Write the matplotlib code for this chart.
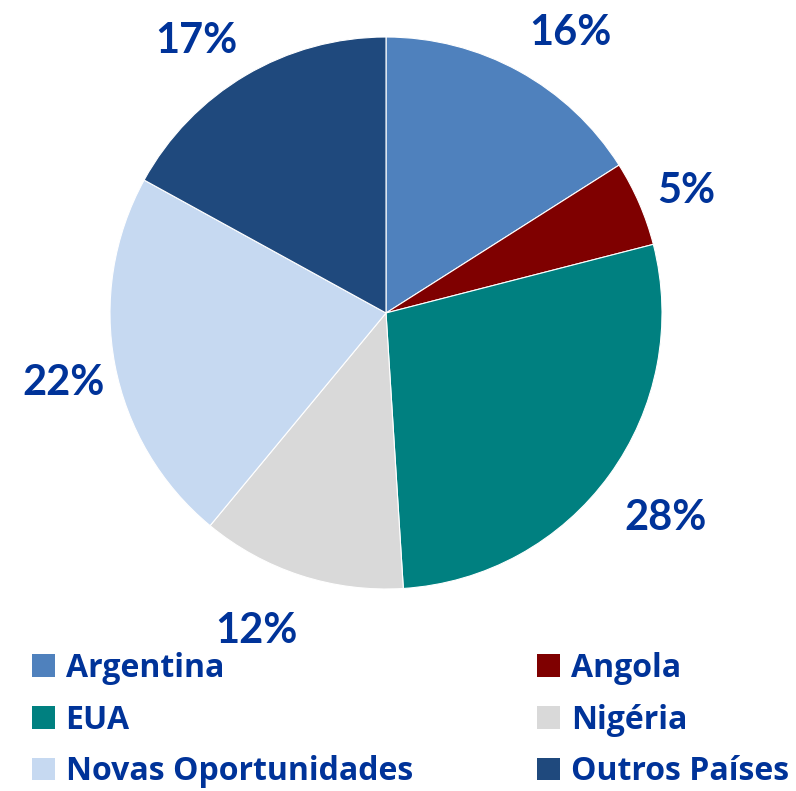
import matplotlib
matplotlib.use('Agg')
import matplotlib.pyplot as plt
from matplotlib.patches import Patch

# Share of each region (percent)
labels = ["Argentina", "Angola", "EUA", "Nigéria", "Novas Oportunidades", "Outros Países"]
values = [16, 5, 28, 12, 22, 17]
colors = ["#4F81BD", "#7F0000", "#008080", "#D9D9D9", "#C6D9F1", "#1F497D"]

# where each percentage label sits (in pie radii), like Excel's outside-end labels
label_xy = [(0.667, 1.025), (1.087, 0.453), (1.014, -0.732),
            (-0.471, -1.141), (-1.167, -0.243), (-0.688, 0.998)]

text_color = "#003399"
plt.rcParams['font.family'] = ['Lato', 'DejaVu Sans']

fig = plt.figure(figsize=(7.96, 7.91), dpi=100)
ax = fig.add_axes([110 / 796, 202 / 791, 552 / 796, 552 / 791])

wedges, texts, autotexts = ax.pie(
    values,
    colors=colors,
    startangle=90,
    counterclock=False,
    autopct="%d%%",
    wedgeprops=dict(edgecolor="white", linewidth=0.8),
    textprops=dict(color=text_color, fontsize=30, fontweight="bold"),
)
# cap height is ~30 px, so drop the baseline half of it below the centre
half_cap = 15 / 276
for t, (x, y) in zip(autotexts, label_xy):
    t.set_position((x, y - half_cap))
    t.set_verticalalignment("baseline")
    t.set_horizontalalignment("center")

ax.set_xlim(-1, 1)
ax.set_ylim(-1, 1)
ax.set_aspect("equal")

handles = [Patch(facecolor=c, edgecolor="none") for c in colors]
# order to fill rows: Argentina/Angola, EUA/Nigéria, Novas/Outros
order = [0, 2, 4, 1, 3, 5]
fig.legend(
    [handles[i] for i in order],
    [labels[i] for i in order],
    ncol=2,
    loc="upper left",
    bbox_to_anchor=(32 / 796, 1 - 652 / 791),
    frameon=False,
    borderpad=0,
    borderaxespad=0,
    prop=dict(family=['Open Sans', 'DejaVu Sans'], size=23, weight="bold"),
    labelcolor=text_color,
    handlelength=0.72,
    handleheight=0.72,
    handletextpad=0.33,
    columnspacing=3.9,
    labelspacing=0.58,
)

fig.savefig("out.png", dpi=100)
